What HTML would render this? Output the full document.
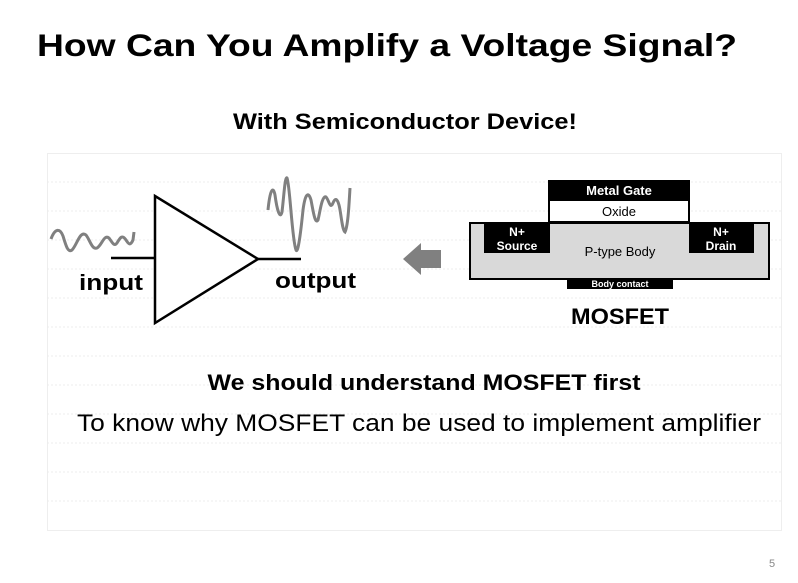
<!DOCTYPE html>
<html><head><meta charset="utf-8"><style>
html,body{margin:0;padding:0;background:#fff;}
svg{display:block;font-family:"Liberation Sans",sans-serif;}
</style></head><body>
<svg width="798" height="583" viewBox="0 0 798 583" xmlns="http://www.w3.org/2000/svg">
<rect width="798" height="583" fill="#fff"/>
<text x="37" y="56" font-size="31.5" font-weight="bold" textLength="700" lengthAdjust="spacingAndGlyphs">How Can You Amplify a Voltage Signal?</text>
<text x="405" y="129" font-size="22" font-weight="bold" text-anchor="middle" textLength="344" lengthAdjust="spacingAndGlyphs">With Semiconductor Device!</text>
<g stroke="#ececec" stroke-width="1" stroke-dasharray="2,2">
<rect x="47.5" y="153.5" width="734" height="377" fill="none" stroke="#eee" stroke-dasharray="none"/>
<line x1="47" y1="182" x2="781" y2="182"/><line x1="47" y1="211" x2="781" y2="211"/>
<line x1="47" y1="240" x2="781" y2="240"/><line x1="47" y1="269" x2="781" y2="269"/>
<line x1="47" y1="298" x2="781" y2="298"/><line x1="47" y1="327" x2="781" y2="327"/>
<line x1="47" y1="356" x2="781" y2="356"/><line x1="47" y1="385" x2="781" y2="385"/>
<line x1="47" y1="414" x2="781" y2="414"/><line x1="47" y1="443" x2="781" y2="443"/>
<line x1="47" y1="472" x2="781" y2="472"/><line x1="47" y1="501" x2="781" y2="501"/>
</g>
<polygon points="155,196 155,323 258,259" fill="#fff" stroke="#000" stroke-width="2.5"/>
<line x1="111" y1="258" x2="155" y2="258" stroke="#000" stroke-width="2.5"/>
<line x1="258" y1="259" x2="301" y2="259" stroke="#000" stroke-width="2.5"/>
<path d="M51,239 C55,228 60,228 63,236 C66,246 68,253 72,250 C77,245 80,230 86,235 C90,240 92,250 97,248 C102,245 104,234 109,238 C112,242 114,247 117,243 C120,238 122,234 126,240 C128,243 130,247 133,240 L134,232" fill="none" stroke="#808080" stroke-width="3"/>
<path d="M268,210 C270,190 273,185 275,195 C277,210 280,220 282,212 C284,195 285,176 287,178 C290,185 292,240 296,250 C298,255 301,230 303,210 C305,195 308,190 311,200 C313,210 315,225 318,220 C320,212 322,195 326,197 C329,200 330,210 333,203 C335,198 337,198 339,205 C341,212 342,230 345,232 C348,226 349,205 350,188" fill="none" stroke="#808080" stroke-width="3"/>
<text x="79" y="290" font-size="22" font-weight="bold" textLength="64" lengthAdjust="spacingAndGlyphs">input</text>
<text x="275" y="288" font-size="22" font-weight="bold" textLength="81" lengthAdjust="spacingAndGlyphs">output</text>
<polygon points="403,259 421,243 421,250 441,250 441,268 421,268 421,275" fill="#808080"/>
<rect x="470" y="223" width="299" height="56" fill="#d9d9d9" stroke="#000" stroke-width="2"/>
<rect x="548" y="180" width="142" height="20" fill="#000"/>
<rect x="549" y="200" width="140" height="22" fill="#fff" stroke="#000" stroke-width="2"/>
<rect x="484" y="223" width="66" height="30" fill="#000"/>
<rect x="689" y="223" width="65" height="30" fill="#000"/>
<rect x="567" y="278" width="106" height="11" fill="#000"/>
<text x="619" y="195" font-size="13" font-weight="bold" fill="#fff" text-anchor="middle">Metal Gate</text>
<text x="619" y="216" font-size="13" text-anchor="middle">Oxide</text>
<text x="517" y="236" font-size="12" font-weight="bold" fill="#fff" text-anchor="middle">N+</text>
<text x="517" y="250" font-size="12" font-weight="bold" fill="#fff" text-anchor="middle">Source</text>
<text x="721" y="236" font-size="12" font-weight="bold" fill="#fff" text-anchor="middle">N+</text>
<text x="721" y="250" font-size="12" font-weight="bold" fill="#fff" text-anchor="middle">Drain</text>
<text x="620" y="256" font-size="13" text-anchor="middle">P-type Body</text>
<text x="620" y="287" font-size="9" font-weight="bold" fill="#fff" text-anchor="middle">Body contact</text>
<text x="620" y="324" font-size="22" font-weight="bold" text-anchor="middle" textLength="98" lengthAdjust="spacingAndGlyphs">MOSFET</text>
<text x="424" y="390" font-size="22" font-weight="bold" text-anchor="middle" textLength="433" lengthAdjust="spacingAndGlyphs">We should understand MOSFET first</text>
<text x="419" y="431" font-size="24" text-anchor="middle" textLength="684" lengthAdjust="spacingAndGlyphs">To know why MOSFET can be used to implement amplifier</text>
<text x="769" y="567" font-size="11" fill="#888">5</text>
</svg>
</body></html>
